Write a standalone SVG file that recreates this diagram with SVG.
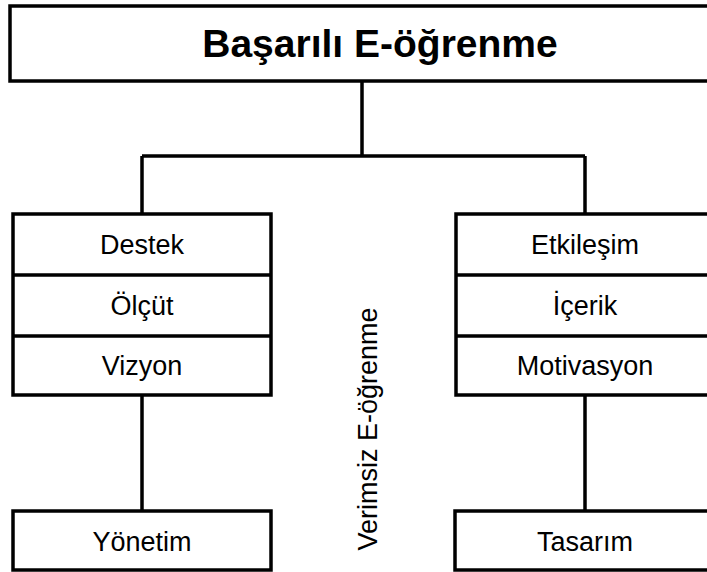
<svg xmlns="http://www.w3.org/2000/svg" width="707" height="572" viewBox="0 0 707 572">
<style>
.box{fill:#fff;stroke:#000;stroke-width:3.5}
.ln{fill:none;stroke:#000;stroke-width:3.5}
.t{font-family:"Liberation Sans",Arial,sans-serif;font-size:27px;fill:#000;text-anchor:middle}
.title{font-family:"Liberation Sans",Arial,sans-serif;font-size:39px;font-weight:bold;fill:#000;text-anchor:middle}
</style>
<rect width="707" height="572" fill="#fff"/>
<g id="connectors">
<path class="ln" d="M362 81V156M142 156H585M142 156V214M585 156V214"/>
<path class="ln" d="M142 395V511M585 395V511"/>
</g>
<g id="top">
<rect class="box" x="10" y="6" width="750" height="75"/>
<text class="title" x="380" y="57">Başarılı E-öğrenme</text>
</g>
<g id="left">
<rect class="box" x="13" y="214" width="258" height="181"/>
<path class="ln" d="M13 275H271M13 336H271"/>
<text class="t" x="142" y="254">Destek</text>
<text class="t" x="142" y="315">Ölçüt</text>
<text class="t" x="142" y="375">Vizyon</text>
</g>
<g id="right">
<rect class="box" x="456" y="214" width="258" height="181"/>
<path class="ln" d="M456 275H714M456 336H714"/>
<text class="t" x="585" y="254">Etkileşim</text>
<text class="t" x="585" y="315">İçerik</text>
<text class="t" x="585" y="375">Motivasyon</text>
</g>
<g id="yonetim">
<rect class="box" x="13" y="511" width="258" height="59"/>
<text class="t" x="142" y="551">Yönetim</text>
</g>
<g id="tasarim">
<rect class="box" x="455" y="511" width="259" height="59"/>
<text class="t" x="585" y="551">Tasarım</text>
</g>
<g id="verimsiz">
<text class="t" transform="translate(377 429) rotate(-90)">Verimsiz E-öğrenme</text>
</g>
</svg>
